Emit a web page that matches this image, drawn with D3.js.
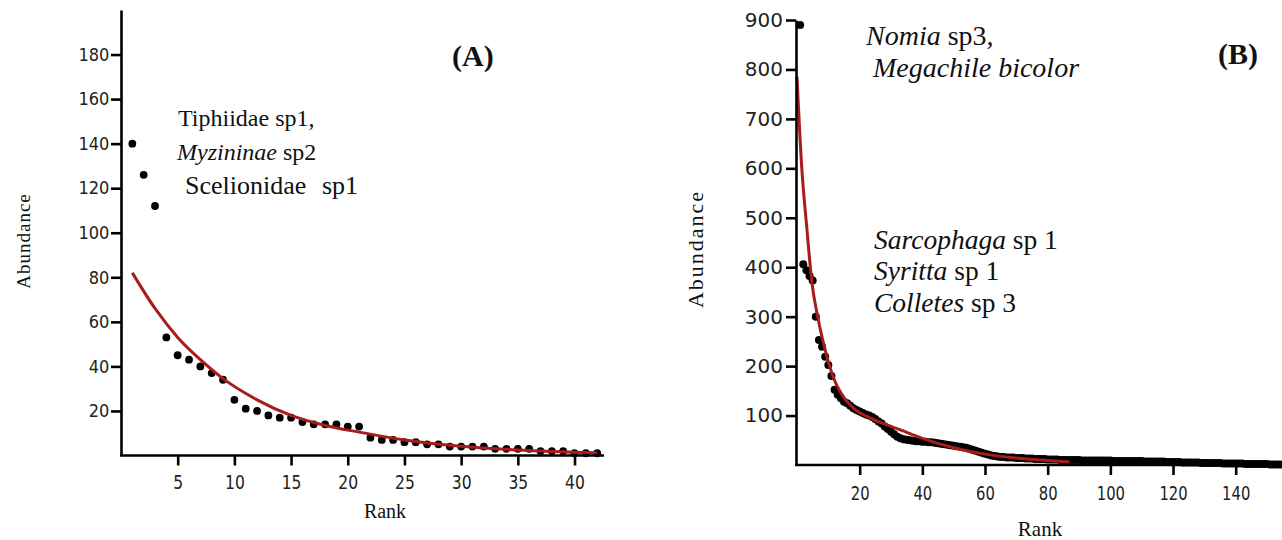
<!DOCTYPE html>
<html>
<head>
<meta charset="utf-8">
<script src="https://cdn.jsdelivr.net/npm/d3@7"></script>
<style>
  body { margin: 0; background: #fff; }
  svg { display: block; }
  .axis path, .axis line { stroke: #000; stroke-width: 2.6px; }
  .axis text { font-family: "DejaVu Sans", sans-serif; fill: #222; }
  .lbl { font-family: "Liberation Serif", "Times New Roman", serif; fill: #111; }
</style>
</head>
<body>
<svg width="1282" height="540"></svg>
<script>
// ---- panel A: abundance by rank (ranks are index + 1)
var abundA = [140, 126, 112, 53, 45, 43, 40, 37, 34, 25,
              21, 20, 18, 17, 17, 15, 14, 14, 14, 13,
              13, 8, 7, 7, 6, 6, 5, 5, 4, 4,
              4, 4, 3, 3, 3, 3, 2, 2, 2, 1,
              1, 1];
// fitted curve (red), read at these ranks
var fitRankA = [1, 3, 5, 7, 9, 12, 15, 18, 21, 25, 30, 35, 42];
var fitValA  = [82, 66, 53, 43, 34.5, 25, 18, 13.5, 10.5, 7, 4.2, 2.5, 1.2];
var xTicksA = [5, 10, 15, 20, 25, 30, 35, 40];
var yTicksA = [20, 40, 60, 80, 100, 120, 140, 160, 180];

// ---- panel B
var abundB = [890, 406, 394, 382, 373, 300, 253, 239, 219, 202,
              180, 152, 142, 135, 128, 125, 120, 115, 111, 108,
              105, 102, 100, 97, 93, 88, 84, 78, 73, 67,
              62, 57, 54, 52, 51, 50, 49, 48, 48, 47,
              47, 46, 46, 45, 44, 43, 42, 41, 40, 39,
              38, 37, 36, 35, 33, 31, 29, 27, 25, 23,
              21, 19, 18, 17, 16, 16, 15, 15, 15, 14,
              14, 14, 13, 13, 13, 12, 12, 12, 12, 11,
              11, 11, 11, 10, 10, 10, 10, 10, 10, 10,
              9, 9, 9, 9, 9, 9, 9, 9, 9, 9,
              8, 8, 8, 8, 8, 8, 8, 8, 8, 8,
              7, 7, 7, 7, 7, 7, 7, 6, 6, 6,
              6, 6, 5, 5, 5, 5, 5, 5, 4, 4,
              4, 4, 4, 4, 4, 3, 3, 3, 3, 3,
              3, 3, 2, 2, 2, 2, 2, 2, 2, 2,
              1, 1, 1, 1, 1, 1];
var fitRankB = [0, 1.5, 3.1, 4.8, 6.6, 9, 11.5, 14.8, 18.8, 23.5, 27.5, 33, 40, 50, 60, 70, 80, 87];
var fitValB  = [785, 603, 482, 367, 300, 233, 179, 138, 111, 95, 84, 71, 54, 35, 22, 14, 9, 6];
var xTicksB = [20, 40, 60, 80, 100, 120, 140];
var yTicksB = [100, 200, 300, 400, 500, 600, 700, 800, 900];

var svg = d3.select("svg");
svg.append("rect").attr("width", 1282).attr("height", 540).attr("fill", "#fff");

function panel(o) {
    var x = d3.scaleLinear().domain(o.xDom).range(o.xRange),
        y = d3.scaleLinear().domain(o.yDom).range(o.yRange);
    var g = svg.append("g");

    // dots
    g.append("g").selectAll("circle")
        .data(o.abund)
        .join("circle")
        .attr("cx", function(d, i) { return x(i + 1); })
        .attr("cy", function(d) { return y(d); })
        .attr("r", o.r)
        .attr("fill", "#000");

    // fitted line
    var line = d3.line()
        .x(function(d) { return x(d[0]); })
        .y(function(d) { return y(d[1]); })
        .curve(d3.curveMonotoneX);
    g.append("path")
        .datum(d3.zip(o.fitRank, o.fitVal))
        .attr("d", line)
        .attr("fill", "none")
        .attr("stroke", "#a81c1c")
        .attr("stroke-width", 3);

    var yAxis = g.append("g").attr("class", "axis")
        .attr("transform", "translate(" + o.axisX + ",0)")
        .call(d3.axisLeft(y).tickValues(o.yTicks).tickSize(10).tickSizeOuter(0).tickPadding(o.yPad));
    yAxis.selectAll("text")
        .style("font-size", o.yFont + "px")
        .attr("transform", "scale(" + o.yScaleX + ",1)");

    var xAxis = g.append("g").attr("class", "axis")
        .attr("transform", "translate(0," + o.yRange[0] + ")")
        .call(d3.axisBottom(x).tickValues(o.xTicks).tickSize(10).tickSizeOuter(0).tickPadding(o.xPad));
    xAxis.select(".domain").attr("d", "M" + (o.axisX - 1) + ",0H" + o.xRange[1]);
    xAxis.selectAll("text")
        .style("font-size", o.xFont + "px")
        .attr("transform", "scale(" + o.xScaleX + ",1)");
    return g;
}

panel({
    abund: abundA, fitRank: fitRankA, fitVal: fitValA,
    xDom: [0, 42.6], xRange: [121, 604], axisX: 121,
    yDom: [0, 200], yRange: [455.5, 10],
    xTicks: xTicksA, yTicks: yTicksA, r: 3.9,
    yFont: 18, yScaleX: 0.9, yPad: 3,
    xFont: 19, xScaleX: 0.82, xPad: 10
});

panel({
    abund: abundB, fitRank: fitRankB, fitVal: fitValB,
    xDom: [0, 155.1], xRange: [797, 1283], axisX: 796,
    yDom: [0, 900], yRange: [465, 20],
    xTicks: xTicksB, yTicks: yTicksB, r: 4,
    yFont: 20, yScaleX: 1, yPad: 3,
    xFont: 19, xScaleX: 0.78, xPad: 12
});

// ---- text
function txt(x, y, size, parts, extra) {
    var t = svg.append("text").attr("class", "lbl")
        .attr("x", x).attr("y", y)
        .style("font-size", size + "px")
        .attr("xml:space", "preserve");
    if (extra) extra(t);
    parts.forEach(function(p) {
        var s = t.append("tspan").text(p[0]).style("font-style", p[1] ? "italic" : "normal");
        if (p[2] != null) s.attr("x", p[2]);
    });
    return t;
}

txt(452, 66, 30, [["(A)"]], function(t) { t.style("font-weight", "bold"); });
txt(1218, 64, 30, [["(B)"]], function(t) { t.style("font-weight", "bold"); });

txt(178, 126, 24, [["Tiphiidae sp1,"]]);
txt(177, 160, 24, [["Myzininae", true], [" sp2"]]);
txt(185, 194, 26, [["Scelionidae"], ["sp1", false, 322]]);

txt(866, 45, 28, [["Nomia", true], [" sp3,"]]);
txt(866, 77, 28, [[" "], ["Megachile bicolor", true]]);
txt(874, 249, 27.5, [["Sarcophaga", true], [" sp 1"]]);
txt(874, 280, 27.5, [["Syritta", true], [" sp 1"]]);
txt(874, 312, 27.5, [["Colletes", true], [" sp 3"]]);

// axis titles
svg.append("text").attr("class", "lbl")
    .attr("transform", "translate(30,241) rotate(-90)")
    .attr("text-anchor", "middle")
    .style("font-size", "19px").style("letter-spacing", "1px")
    .text("Abundance");
svg.append("text").attr("class", "lbl")
    .attr("transform", "translate(703,249) rotate(-90)")
    .attr("text-anchor", "middle")
    .style("font-size", "22px").style("letter-spacing", "2px")
    .text("Abundance");
svg.append("text").attr("class", "lbl")
    .attr("x", 385).attr("y", 518).attr("text-anchor", "middle")
    .style("font-size", "20px")
    .text("Rank");
svg.append("text").attr("class", "lbl")
    .attr("x", 1040).attr("y", 536).attr("text-anchor", "middle")
    .style("font-size", "21px")
    .text("Rank");
</script>
</body>
</html>
